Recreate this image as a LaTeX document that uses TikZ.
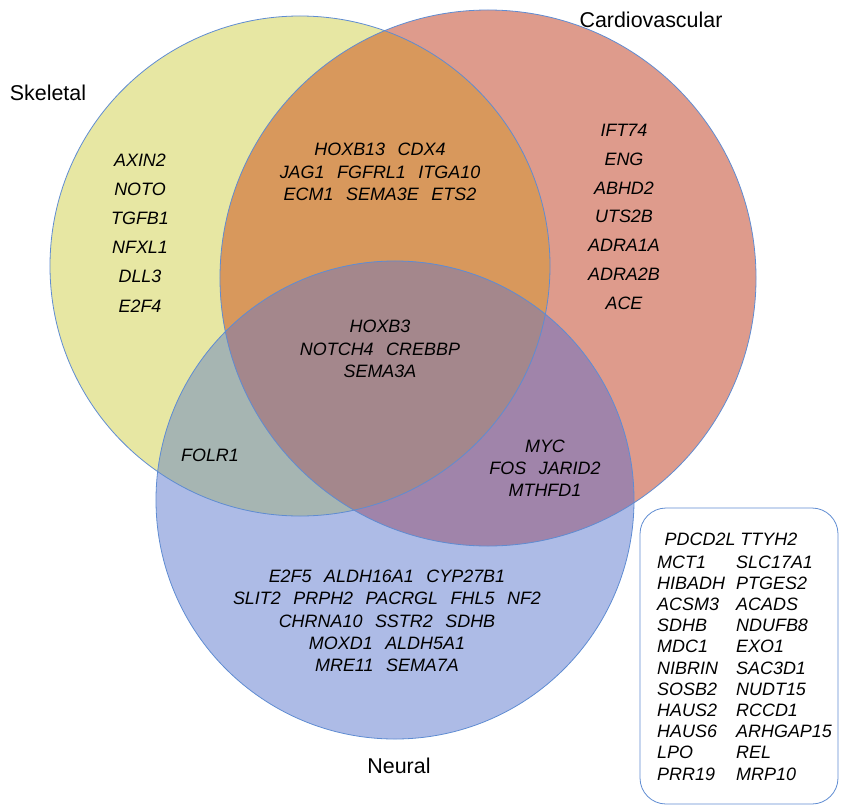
\documentclass[tikz,border=0pt]{standalone}
\usepackage{fontspec}
\setmainfont{Liberation Sans}
\definecolor{skelfill}{RGB}{231,231,163}
\definecolor{cardfill}{RGB}{222,155,140}
\definecolor{neurfill}{RGB}{173,187,230}
\definecolor{skelcard}{RGB}{216,152,92}
\definecolor{skelneur}{RGB}{166,181,178}
\definecolor{cardneur}{RGB}{160,132,170}
\definecolor{allthree}{RGB}{164,135,140}
\definecolor{ringblue}{RGB}{95,140,210}
\newcommand{\skelcirc}{(300,266) circle[radius=250bp]}
\newcommand{\cardcirc}{(488,278) circle[radius=268bp]}
\newcommand{\neurcirc}{(395,500) circle[radius=239bp]}
\newcommand{\gap}{\hspace{0.7em}}
\tikzset{
  gene/.style={font=\itshape\fontsize{18}{22.3}\selectfont, align=center, inner sep=0pt},
  setname/.style={font=\fontsize{21.5}{25}\selectfont, inner sep=0pt},
  ring/.style={draw=ringblue, line width=0.8pt},
}
\begin{document}
\begin{tikzpicture}[x=1bp,y=-1bp]
  \useasboundingbox (0,0) rectangle (841,811);
  % the three sets
  \fill[skelfill] \skelcirc;
  \fill[cardfill] \cardcirc;
  \fill[neurfill] \neurcirc;
  \begin{scope}
    \clip \skelcirc;
    \fill[skelcard] \cardcirc;
    \fill[skelneur] \neurcirc;
  \end{scope}
  \begin{scope}
    \clip \cardcirc;
    \fill[cardneur] \neurcirc;
    \clip \skelcirc;
    \fill[allthree] \neurcirc;
  \end{scope}
  \draw[ring] \skelcirc;
  \draw[ring] \cardcirc;
  \draw[ring] \neurcirc;
  % set names
  \node[setname] (skeletal) at (48,93) {Skeletal};
  \node[setname] (cardio) at (651,20) {Cardiovascular};
  \node[setname] (neural) at (399,766) {Neural};
  % skeletal only
  \foreach \g [count=\i] in {AXIN2,NOTO,TGFB1,NFXL1,DLL3,E2F4}
    \node[gene] (skel\i) at (140,{160+29.2*(\i-1)}) {\g};
  % cardiovascular only
  \foreach \g [count=\i] in {IFT74,ENG,ABHD2,UTS2B,ADRA1A,ADRA2B,ACE}
    \node[gene] (card\i) at (624,{130+28.9*(\i-1)}) {\g};
  % overlaps
  \node[gene] (sc) at (380,172) {HOXB13\gap CDX4\\JAG1\gap FGFRL1\gap ITGA10\\ECM1\gap SEMA3E\gap ETS2};
  \node[gene] (scn) at (380,349) {HOXB3\\NOTCH4\gap CREBBP\\SEMA3A};
  \node[gene] (sn) at (210,455) {FOLR1};
  \node[gene] (cn) at (545,468) {MYC\\FOS\gap JARID2\\MTHFD1};
  % neural only
  \node[gene] (neur) at (387,621) {E2F5\gap ALDH16A1\gap CYP27B1\\SLIT2\gap PRPH2\gap PACRGL\gap FHL5\gap NF2\\CHRNA10\gap SSTR2\gap SDHB\\MOXD1\gap ALDH5A1\\MRE11\gap SEMA7A};
  % none of the three
  \draw[ring, rounded corners=26bp] (640,508) rectangle (838,804);
  \node[gene] (rest0) at (731,539) {PDCD2L TTYH2};
  \foreach \a/\b [count=\i] in {MCT1/SLC17A1,HIBADH/PTGES2,ACSM3/ACADS,SDHB/NDUFB8,MDC1/EXO1,NIBRIN/SAC3D1,SOSB2/NUDT15,HAUS2/RCCD1,HAUS6/ARHGAP15,LPO/REL,PRR19/MRP10}
  {
    \node[gene, anchor=west] (restl\i) at (657,{562+21.2*(\i-1)}) {\a};
    \node[gene, anchor=west] (restr\i) at (736,{562+21.2*(\i-1)}) {\b};
  }
\end{tikzpicture}
\end{document}
